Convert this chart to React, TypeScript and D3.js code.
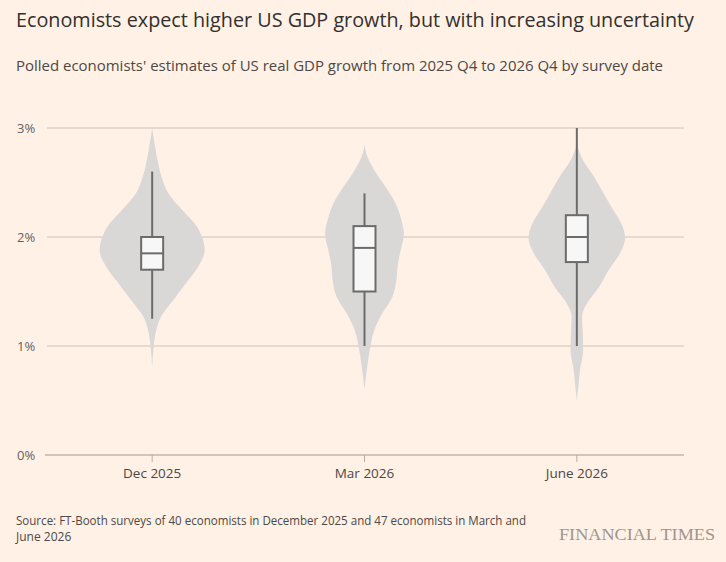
import React from 'react';
import * as d3 from 'd3';

// Survey dates along the x axis
const surveys = ['Dec 2025', 'Mar 2026', 'June 2026'];
const yTicks = [0, 1, 2, 3];

// Box-plot statistics per survey (% growth)
const whiskerLow = [1.25, 1.0, 1.0];
const quartile1 = [1.7, 1.5, 1.77];
const medians = [1.85, 1.9, 2.0];
const quartile3 = [2.0, 2.1, 2.2];
const whiskerHigh = [2.6, 2.4, 3.0];

// Kernel density outlines: [growth %, relative density]
const decDensity: [number, number][] = [
  [0.8, 0], [1.0, 0.03], [1.15, 0.08], [1.27, 0.17], [1.42, 0.4], [1.58, 0.65],
  [1.73, 0.88], [1.88, 1.0], [2.0, 0.95], [2.09, 0.86], [2.25, 0.57], [2.4, 0.31],
  [2.55, 0.18], [2.71, 0.1], [2.86, 0.045], [3.0, 0],
];
const marDensity: [number, number][] = [
  [0.6, 0], [0.84, 0.06], [0.99, 0.11], [1.15, 0.19], [1.3, 0.34], [1.45, 0.53],
  [1.61, 0.61], [1.73, 0.63], [1.88, 0.69], [2.03, 0.75], [2.16, 0.7], [2.31, 0.59],
  [2.46, 0.4], [2.61, 0.19], [2.77, 0.03], [2.85, 0],
];
const junDensity: [number, number][] = [
  [0.5, 0], [0.63, 0.03], [0.78, 0.06], [0.96, 0.12], [1.15, 0.11], [1.27, 0.1],
  [1.39, 0.19], [1.54, 0.42], [1.7, 0.61], [1.85, 0.82], [1.99, 0.92], [2.13, 0.84],
  [2.25, 0.69], [2.4, 0.51], [2.55, 0.33], [2.71, 0.11], [2.85, 0],
];
const densities = [decDensity, marDensity, junDensity];

const title = 'Economists expect higher US GDP growth, but with increasing uncertainty';
const subtitle = "Polled economists' estimates of US real GDP growth from 2025 Q4 to 2026 Q4 by survey date";
const sourceLines = [
  'Source: FT-Booth surveys of 40 economists in December 2025 and 47 economists in March and',
  'June 2026',
];

const W = 726;
const H = 562;
const font = "'Open Sans', sans-serif";

export default function App() {
  const x = d3.scaleBand<string>().domain(surveys).range([46, 683]);
  const y = d3.scaleLinear().domain([0, 3]).range([455, 128]);
  const halfWidth = d3.scaleLinear().domain([0, 1]).range([0, 52.5]);
  const boxW = 22;

  const violin = (cx: number) =>
    d3
      .area<[number, number]>()
      .y((d) => y(d[0]))
      .x0((d) => cx - halfWidth(d[1]))
      .x1((d) => cx + halfWidth(d[1]))
      .curve(d3.curveMonotoneY);

  return (
    <svg
      width={W}
      height={H}
      style={{ position: 'absolute', left: 0, top: 0, background: '#fff1e5' }}
    >
      <rect width={W} height={H} fill="#fff1e5" />
      <text x={16} y={27} fontFamily={font} fontSize={20} fill="#33302e" textLength={678} lengthAdjust="spacingAndGlyphs">
        {title}
      </text>
      <text x={16} y={71} fontFamily={font} fontSize={15} fill="#4d4845" textLength={647} lengthAdjust="spacingAndGlyphs">
        {subtitle}
      </text>

      {/* gridlines and y labels */}
      {yTicks.map((t) => (
        <g key={t}>
          <line
            x1={t === 0 ? 45 : 47}
            x2={684}
            y1={y(t)}
            y2={y(t)}
            stroke={t === 0 ? '#a3988f' : '#cfc2b8'}
            strokeWidth={1}
          />
          <text x={17} y={y(t)} dy="0.35em" fontFamily={font} fontSize={13} fill="#66605c">
            {`${t}%`}
          </text>
        </g>
      ))}

      {/* category ticks and labels */}
      {surveys.map((s) => {
        const cx = x(s)! + x.bandwidth() / 2;
        return (
          <g key={s}>
            <line x1={cx} x2={cx} y1={455} y2={462} stroke="#b8aca3" />
            <text x={cx} y={478} textAnchor="middle" fontFamily={font} fontSize={13.5} fill="#4d4845">
              {s}
            </text>
          </g>
        );
      })}

      {/* violins with box plots */}
      {surveys.map((s, i) => {
        const cx = x(s)! + x.bandwidth() / 2;
        return (
          <g key={s}>
            <path d={violin(cx)(densities[i]) ?? ''} fill="#d9d8d7" />
            <line
              x1={cx}
              x2={cx}
              y1={y(whiskerLow[i])}
              y2={y(whiskerHigh[i])}
              stroke="#6b6b6b"
              strokeWidth={2}
            />
            <rect
              x={cx - boxW / 2}
              y={y(quartile3[i])}
              width={boxW}
              height={y(quartile1[i]) - y(quartile3[i])}
              fill="#f7f7f7"
              stroke="#6b6b6b"
              strokeWidth={2}
            />
            <line
              x1={cx - boxW / 2}
              x2={cx + boxW / 2}
              y1={y(medians[i])}
              y2={y(medians[i])}
              stroke="#6b6b6b"
              strokeWidth={2}
            />
          </g>
        );
      })}

      {sourceLines.map((l, i) => (
        <text
          key={i}
          x={16}
          y={525 + i * 16}
          fontFamily={font}
          fontSize={12}
          fill="#4d4845"
          textLength={i === 0 ? 510 : undefined}
          lengthAdjust="spacingAndGlyphs"
        >
          {l}
        </text>
      ))}
      <text
        x={715}
        y={540}
        textAnchor="end"
        fontFamily="'Liberation Serif', serif"
        fontSize={17}
        fill="#a0958c"
        textLength={156}
        lengthAdjust="spacingAndGlyphs"
      >
        FINANCIAL TIMES
      </text>
    </svg>
  );
}
